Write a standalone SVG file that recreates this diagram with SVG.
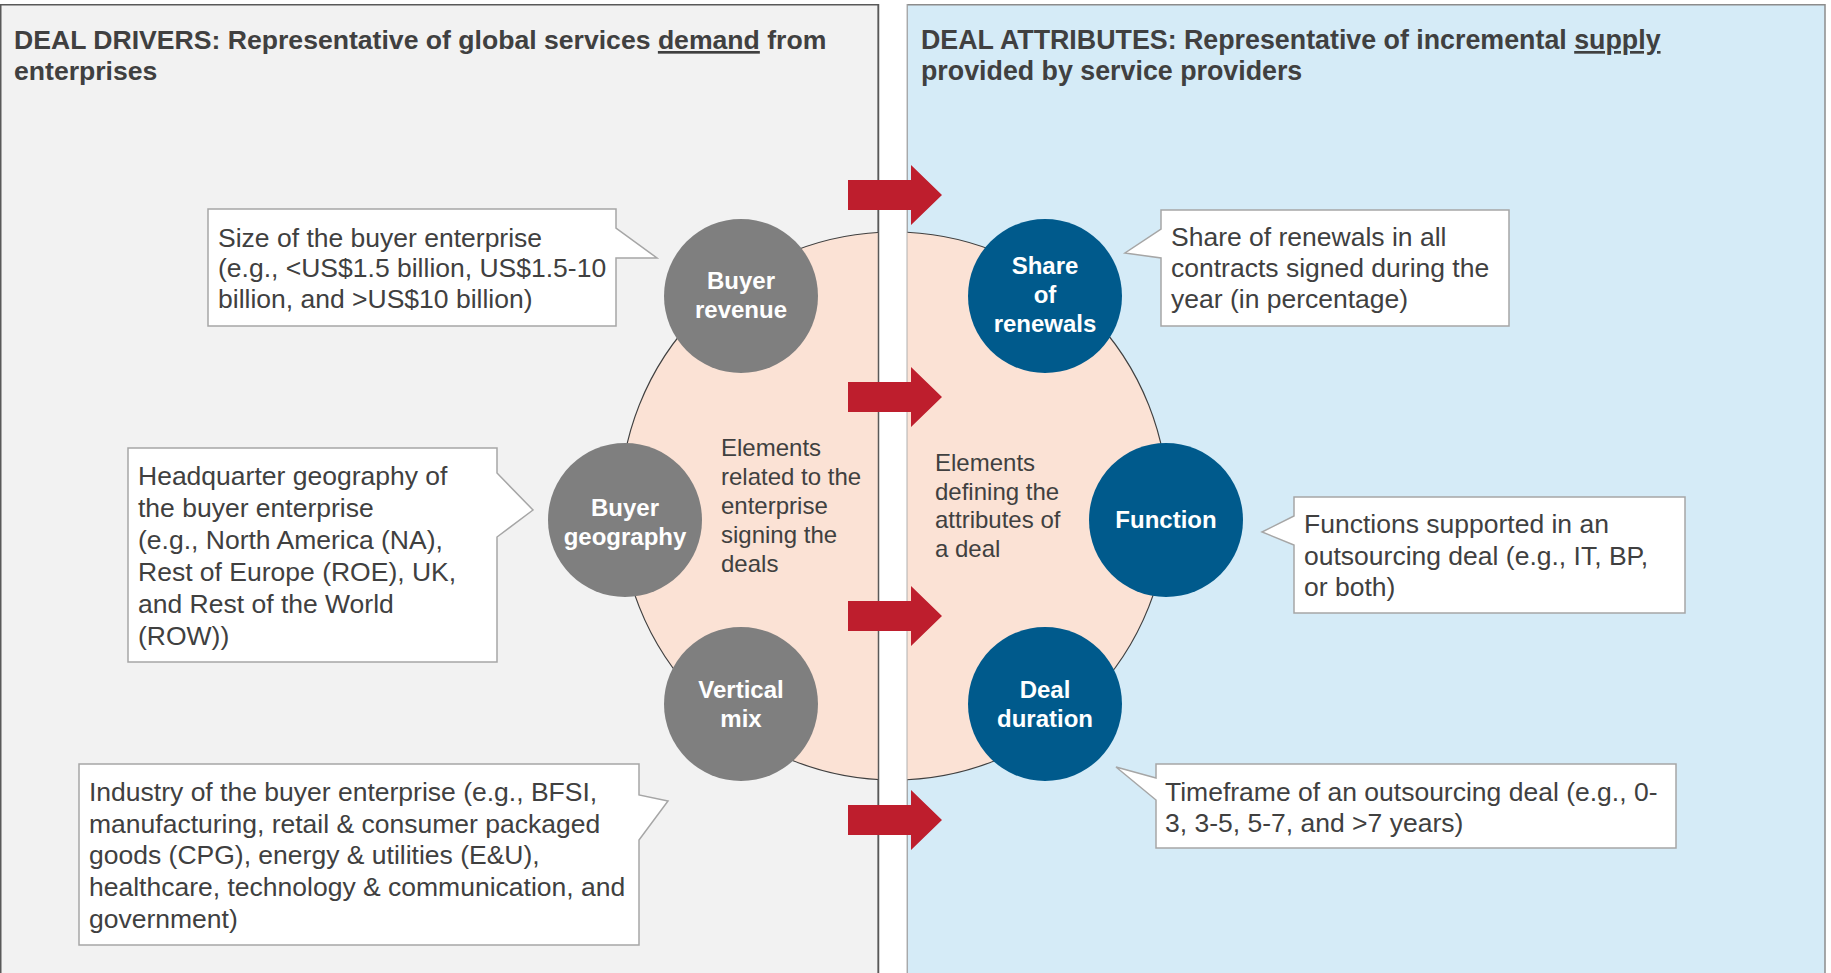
<svg xmlns="http://www.w3.org/2000/svg" xmlns:xlink="http://www.w3.org/1999/xlink" width="1831" height="973" viewBox="0 0 1831 973">
<style>
text{font-family:"Liberation Sans",Arial,sans-serif;}
.title{font-weight:bold;fill:#404040;}
.tl{font-size:26.6px;}
.tr{font-size:26.8px;}
.body{font-size:26.5px;fill:#404040;}
.inner{font-size:24px;fill:#404040;}
.lbl{font-size:24px;font-weight:bold;fill:#ffffff;}
.callout{fill:#ffffff;stroke:#a6a6a6;stroke-width:1.5;}
.gray{fill:#7f7f7f;}
.blue{fill:#005a8c;}
.arrow{fill:#be1e2d;}
</style>
<defs>
<path id="arrow" class="arrow" d="M848,-15 H911 V-30 L942,0 L911,30 V15 H848 Z"/>
</defs>
<g id="panels">
<rect x="0.75" y="4.75" width="877.5" height="1000" fill="#f2f2f2" stroke="#595959" stroke-width="1.5"/>
<rect x="907" y="4.75" width="918" height="1000" fill="#d5ebf7" stroke="#8c8c8c" stroke-width="1.5"/>
</g>
<g id="hub">
<circle cx="894" cy="506" r="274" fill="#fbe2d5" stroke="#404040" stroke-width="1.2"/>
<rect x="878.5" y="0" width="28.5" height="973" fill="#ffffff"/>
<line x1="878.5" y1="4" x2="878.5" y2="973" stroke="#595959" stroke-width="1.5"/>
<line x1="907" y1="4" x2="907" y2="973" stroke="#b0b0b0" stroke-width="1"/>
</g>
<g id="title-left">
<text class="title tl" x="14" y="49">DEAL DRIVERS: Representative of global services <tspan text-decoration="underline">demand</tspan> from</text>
<text class="title tl" x="14" y="80">enterprises</text>
</g>
<g id="title-right">
<text class="title tr" x="921" y="49">DEAL ATTRIBUTES: Representative of incremental <tspan text-decoration="underline">supply</tspan></text>
<text class="title tr" x="921" y="80">provided by service providers</text>
</g>
<g id="inner-left">
<text class="inner" x="721" y="456">Elements</text>
<text class="inner" x="721" y="485">related to the</text>
<text class="inner" x="721" y="514">enterprise</text>
<text class="inner" x="721" y="543">signing the</text>
<text class="inner" x="721" y="572">deals</text>
</g>
<g id="inner-right">
<text class="inner" x="935" y="471">Elements</text>
<text class="inner" x="935" y="500">defining the</text>
<text class="inner" x="935" y="528">attributes of</text>
<text class="inner" x="935" y="557">a deal</text>
</g>
<g id="callout-buyer-revenue">
<path class="callout" d="M208,209 H616 V228 L657,258 L616,258 V326 H208 Z"/>
<text class="body" x="218" y="247">Size of the buyer enterprise</text>
<text class="body" x="218" y="277">(e.g., &lt;US$1.5 billion, US$1.5-10</text>
<text class="body" x="218" y="308">billion, and &gt;US$10 billion)</text>
</g>
<g id="callout-buyer-geography">
<path class="callout" d="M128,448 H497 V473 L533,510 L497,537 V662 H128 Z"/>
<text class="body" x="138" y="485">Headquarter geography of</text>
<text class="body" x="138" y="517">the buyer enterprise</text>
<text class="body" x="138" y="549">(e.g., North America (NA),</text>
<text class="body" x="138" y="581">Rest of Europe (ROE), UK,</text>
<text class="body" x="138" y="613">and Rest of the World</text>
<text class="body" x="138" y="645">(ROW))</text>
</g>
<g id="callout-vertical-mix">
<path class="callout" d="M79,764 H639 V795 L668,801 L639,840 V945 H79 Z"/>
<text class="body" x="89" y="801">Industry of the buyer enterprise (e.g., BFSI,</text>
<text class="body" x="89" y="833">manufacturing, retail &amp; consumer packaged</text>
<text class="body" x="89" y="864">goods (CPG), energy &amp; utilities (E&amp;U),</text>
<text class="body" x="89" y="896">healthcare, technology &amp; communication, and</text>
<text class="body" x="89" y="928">government)</text>
</g>
<g id="callout-share-renewals">
<path class="callout" d="M1161,210 H1509 V326 H1161 V258 L1125,253 L1161,229 Z"/>
<text class="body" x="1171" y="246">Share of renewals in all</text>
<text class="body" x="1171" y="277">contracts signed during the</text>
<text class="body" x="1171" y="308">year (in percentage)</text>
</g>
<g id="callout-function">
<path class="callout" d="M1294,497 H1685 V613 H1294 V545 L1262,532 L1294,516 Z"/>
<text class="body" x="1304" y="533">Functions supported in an</text>
<text class="body" x="1304" y="565">outsourcing deal (e.g., IT, BP,</text>
<text class="body" x="1304" y="596">or both)</text>
</g>
<g id="callout-deal-duration">
<path class="callout" d="M1156,764 H1676 V848 H1156 V800 L1116,767 L1156,778 Z"/>
<text class="body" x="1165" y="801">Timeframe of an outsourcing deal (e.g., 0-</text>
<text class="body" x="1165" y="832">3, 3-5, 5-7, and &gt;7 years)</text>
</g>
<g id="node-buyer-revenue">
<circle class="gray" cx="741" cy="296" r="77"/>
<text class="lbl" x="741" y="289" text-anchor="middle">Buyer</text>
<text class="lbl" x="741" y="318" text-anchor="middle">revenue</text>
</g>
<g id="node-buyer-geography">
<circle class="gray" cx="625" cy="520" r="77"/>
<text class="lbl" x="625" y="516" text-anchor="middle">Buyer</text>
<text class="lbl" x="625" y="545" text-anchor="middle">geography</text>
</g>
<g id="node-vertical-mix">
<circle class="gray" cx="741" cy="704" r="77"/>
<text class="lbl" x="741" y="698" text-anchor="middle">Vertical</text>
<text class="lbl" x="741" y="727" text-anchor="middle">mix</text>
</g>
<g id="node-share-renewals">
<circle class="blue" cx="1045" cy="296" r="77"/>
<text class="lbl" x="1045" y="274" text-anchor="middle">Share</text>
<text class="lbl" x="1045" y="303" text-anchor="middle">of</text>
<text class="lbl" x="1045" y="332" text-anchor="middle">renewals</text>
</g>
<g id="node-function">
<circle class="blue" cx="1166" cy="520" r="77"/>
<text class="lbl" x="1166" y="528" text-anchor="middle">Function</text>
</g>
<g id="node-deal-duration">
<circle class="blue" cx="1045" cy="704" r="77"/>
<text class="lbl" x="1045" y="698" text-anchor="middle">Deal</text>
<text class="lbl" x="1045" y="727" text-anchor="middle">duration</text>
</g>
<g id="connectors">
<use xlink:href="#arrow" y="195"/>
<use xlink:href="#arrow" y="397"/>
<use xlink:href="#arrow" y="616"/>
<use xlink:href="#arrow" y="820"/>
</g>
</svg>
